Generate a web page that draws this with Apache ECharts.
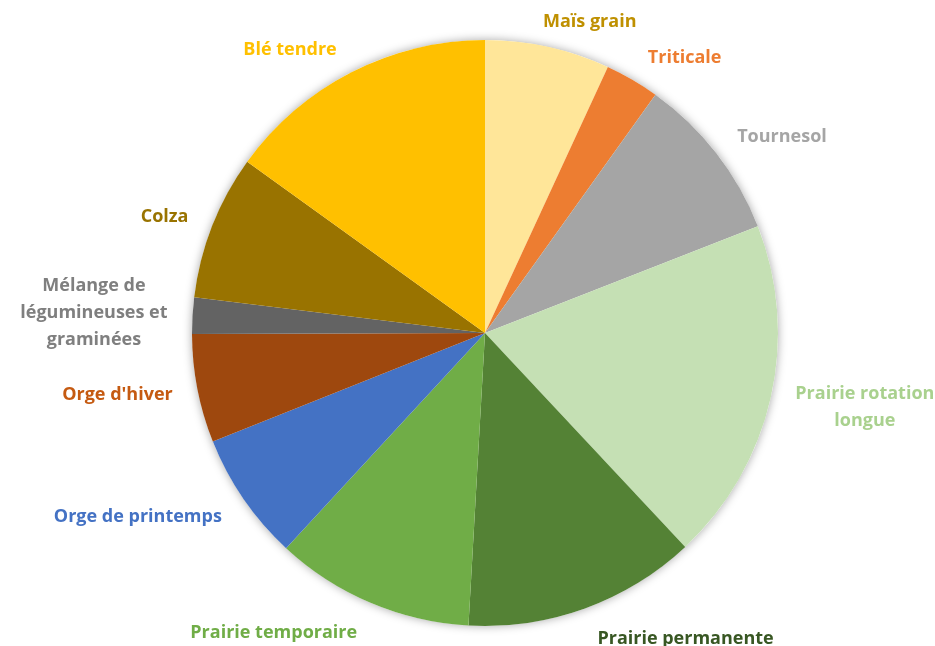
<!DOCTYPE html>
<html>
<head>
<meta charset="utf-8">
<script src="https://cdn.jsdelivr.net/npm/echarts@6/dist/echarts.min.js"></script>
<style>
html,body{margin:0;padding:0;background:#fff;}
#chart{width:935px;height:646px;}
</style>
</head>
<body>
<div id="chart"></div>
<script>
const categories = ["Maïs grain","Triticale","Tournesol","Prairie rotation\nlongue","Prairie permanente","Prairie temporaire","Orge de printemps","Orge d'hiver","Mélange de\nlégumineuses et\ngraminées","Colza","Blé tendre"];
const values = [6.9, 3.0, 9.2, 19.0, 12.9, 11.0, 7.1, 6.0, 2.0, 8.0, 15.1];
const sliceColors = ["#FFE699","#ED7D31","#A5A5A5","#C5E0B4","#548235","#70AD47","#4472C4","#9E480E","#636363","#997300","#FFC000"];
const labelColors = ["#BF9000","#ED7D31","#A5A5A5","#A9D18E","#385723","#70AD47","#4472C4","#C55A11","#7F7F7F","#997300","#FFC000"];

const CX = 485, CY = 333, R = 293, GAP = 19, HPAD = 6, TOPPAD = 7;

const total = values.reduce((a, b) => a + b, 0);
const midAngles = [];
let acc = 0;
values.forEach(v => { midAngles.push(2 * Math.PI * (acc + v / 2) / total); acc += v; });

const chart = echarts.init(document.getElementById('chart'));
const data = categories.map((c, i) => ({
  name: c,
  value: values[i],
  itemStyle: { color: sliceColors[i] },
  label: { color: labelColors[i] }
}));

chart.setOption({
  backgroundColor: '#ffffff',
  animation: false,
  series: [
    {
      type: 'pie',
      silent: true,
      center: [CX, CY],
      radius: R,
      label: { show: false },
      labelLine: { show: false },
      itemStyle: { color: '#ffffff', shadowBlur: 10, shadowColor: 'rgba(0,0,0,0.35)' },
      data: [{ value: 1 }],
      z: 1
    },
    {
      type: 'pie',
      center: [CX, CY],
      radius: R,
      startAngle: 90,
      clockwise: true,
      avoidLabelOverlap: false,
      z: 2,
      itemStyle: { borderWidth: 0 },
      label: {
        show: true,
        position: 'outside',
        fontFamily: 'Open Sans',
        fontWeight: 'bold',
        fontSize: 18,
        lineHeight: 27
      },
      labelLine: { show: false, length: 20, length2: 0 },
      labelLayout: function (p) {
        const a = midAngles[p.dataIndex];
        const ux = Math.sin(a), uy = -Math.cos(a);
        const px = CX + ux * (R + GAP), py = CY + uy * (R + GAP);
        const w = p.labelRect.width, h = p.labelRect.height;
        const s = Math.min(1, Math.abs(ux) / 0.3) * (ux >= 0 ? 1 : -1);
        return {
          x: px + s * (w / 2 + HPAD),
          y: py + uy * h / 2 + TOPPAD * Math.max(0, -uy),
          align: 'center',
          verticalAlign: 'middle'
        };
      },
      data: data
    }
  ]
});
</script>
</body>
</html>
